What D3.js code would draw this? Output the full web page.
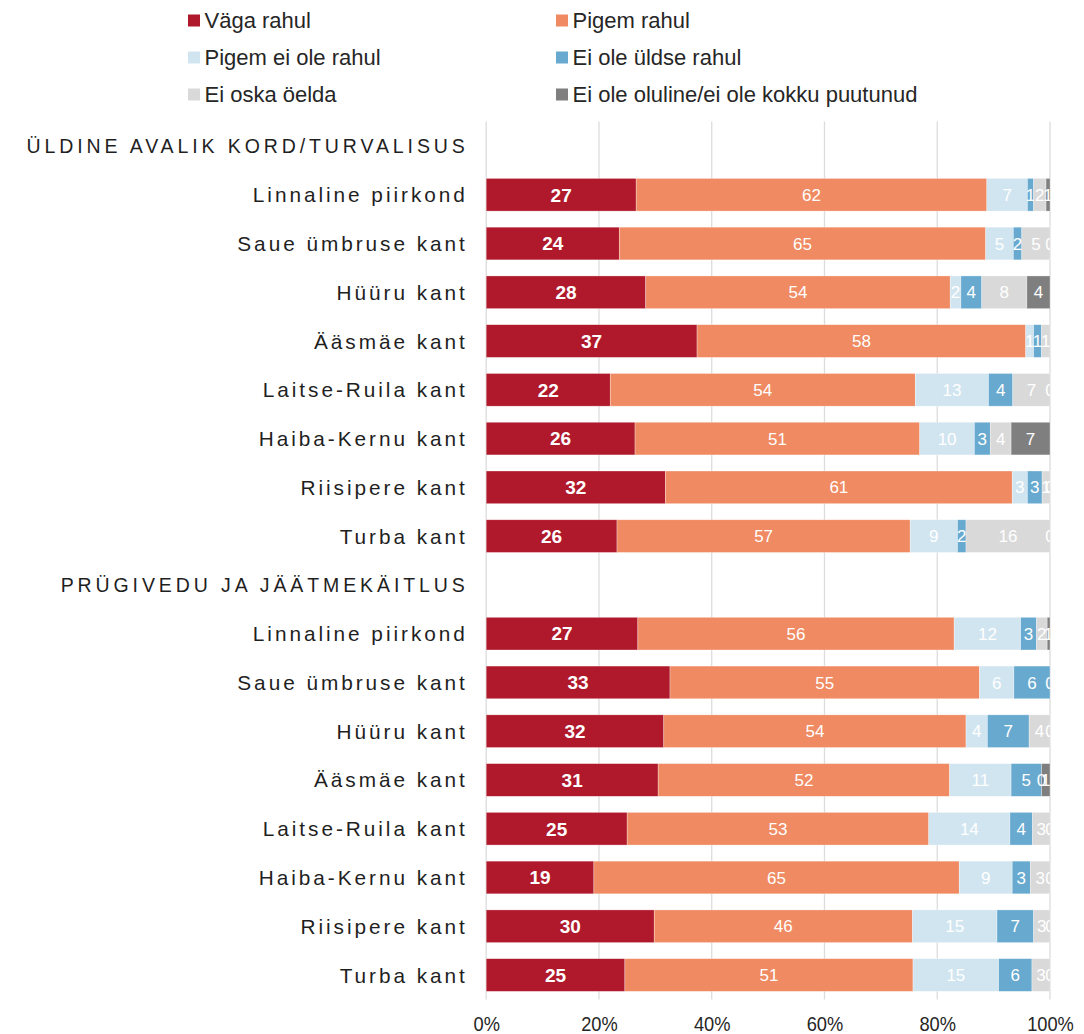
<!DOCTYPE html>
<html>
<head>
<meta charset="utf-8">
<script src="https://cdn.jsdelivr.net/npm/d3@7"></script>
<style>
  html, body { margin: 0; padding: 0; background: #fff; }
  svg { display: block; }
</style>
</head>
<body>
<svg id="chart" width="1084" height="1034"></svg>
<script>
// ---------- DATA ----------
const sections = ["ÜLDINE AVALIK KORD/TURVALISUS", "PRÜGIVEDU JA JÄÄTMEKÄITLUS"];
const categories = ["Linnaline piirkond", "Saue ümbruse kant", "Hüüru kant", "Ääsmäe kant",
                    "Laitse-Ruila kant", "Haiba-Kernu kant", "Riisipere kant", "Turba kant"];
const seriesNames = ["Väga rahul", "Pigem rahul", "Pigem ei ole rahul", "Ei ole üldse rahul",
                     "Ei oska öelda", "Ei ole oluline/ei ole kokku puutunud"];
const seriesColors = ["#b0182b", "#ef8a62", "#d1e5f0", "#67a9cf", "#d9d9d9", "#7f7f7f"];

// Section 1: ÜLDINE AVALIK KORD/TURVALISUS (bar lengths, %)
const vaga1     = [26.6, 23.6, 28.3, 37.4, 22.0, 26.4, 31.8, 23.2];
const pigem1    = [62.2, 65.0, 54.0, 58.3, 54.1, 50.5, 61.5, 52.0];
const pigemEi1  = [7.2, 4.9, 1.9, 1.4, 13.0, 9.7, 2.7, 8.4];
const eiUldse1  = [1.1, 1.5, 3.7, 1.4, 4.3, 2.8, 2.6, 1.5];
const eiOska1   = [2.2, 5.0, 8.0, 1.5, 6.6, 3.7, 1.4, 14.9];
const eiOlul1   = [0.7, 0, 4.1, null, 0, 6.9, 0, 0];
// Section 1 printed labels
const vaga1Lab    = [27, 24, 28, 37, 22, 26, 32, 26];
const pigem1Lab   = [62, 65, 54, 58, 54, 51, 61, 57];
const pigemEi1Lab = [7, 5, 2, 1, 13, 10, 3, 9];
const eiUldse1Lab = [1, 2, 4, 1, 4, 3, 3, 2];
const eiOska1Lab  = [2, 5, 8, 1, 7, 4, 1, 16];
const eiOlul1Lab  = [1, 0, 4, null, 0, 7, 0, 0];

// Section 2: PRÜGIVEDU JA JÄÄTMEKÄITLUS (bar lengths, %)
const vaga2     = [26.9, 32.6, 31.5, 30.5, 25.0, 19.1, 29.8, 24.6];
const pigem2    = [56.1, 54.9, 53.6, 51.7, 53.5, 64.8, 45.8, 51.1];
const pigemEi2  = [11.8, 6.1, 3.8, 10.9, 14.4, 9.4, 15.0, 15.2];
const eiUldse2  = [2.8, 6.4, 7.4, 5.4, 4.0, 3.2, 6.5, 5.9];
const eiOska2   = [1.9, 0, 3.7, 0, 3.1, 3.5, 2.9, 3.2];
const eiOlul2   = [0.5, null, 0, 1.5, 0, 0, 0, 0];
// Section 2 printed labels
const vaga2Lab    = [27, 33, 32, 31, 25, 19, 30, 25];
const pigem2Lab   = [56, 55, 54, 52, 53, 65, 46, 51];
const pigemEi2Lab = [12, 6, 4, 11, 14, 9, 15, 15];
const eiUldse2Lab = [3, 6, 7, 5, 4, 3, 7, 6];
const eiOska2Lab  = [2, 0, 4, 0, 3, 3, 3, 3];
const eiOlul2Lab  = [1, null, 0, 1, 0, 0, 0, 0];

const xTicks = [0, 20, 40, 60, 80, 100];

// ---------- BUILD ROWS ----------
const sectionValues = [
  [vaga1, pigem1, pigemEi1, eiUldse1, eiOska1, eiOlul1],
  [vaga2, pigem2, pigemEi2, eiUldse2, eiOska2, eiOlul2]
];
const sectionLabels = [
  [vaga1Lab, pigem1Lab, pigemEi1Lab, eiUldse1Lab, eiOska1Lab, eiOlul1Lab],
  [vaga2Lab, pigem2Lab, pigemEi2Lab, eiUldse2Lab, eiOska2Lab, eiOlul2Lab]
];
const rows = [];
sections.forEach((s, si) => {
  rows.push({ key: "h" + si, header: true, label: s });
  categories.forEach((c, ci) => {
    let acc = 0;
    const segs = sectionValues[si].map((arr, k) => {
      const v = arr[ci];
      const seg = { k, v, x0: acc, x1: acc + (v || 0), lab: sectionLabels[si][k][ci] };
      acc += (v || 0);
      return seg;
    });
    rows.push({ key: "r" + si + "_" + ci, header: false, label: c, segs });
  });
});

// ---------- DRAW ----------
const svg = d3.select("#chart");
const FONT = "'Liberation Sans', Arial, Helvetica, sans-serif";

const x = d3.scaleLinear().domain([0, 100]).range([486.2, 1050]);
const y = d3.scaleBand().domain(rows.map(r => r.key)).range([121.6, 999.4])
  .paddingInner(0.33).paddingOuter(0.165);

// gridlines
svg.append("g").selectAll("line").data(xTicks).join("line")
  .attr("x1", d => x(d)).attr("x2", d => x(d))
  .attr("y1", 121.6).attr("y2", 999.4)
  .attr("stroke", "#dcdcdc").attr("stroke-width", 1.3);

// bars
const barRows = rows.filter(r => !r.header);
const gBars = svg.append("g");
barRows.forEach(r => {
  gBars.selectAll(null).data(r.segs.filter(s => s.v)).join("rect")
    .attr("x", s => x(s.x0)).attr("width", s => x(s.x1) - x(s.x0))
    .attr("y", y(r.key)).attr("height", y.bandwidth())
    .attr("fill", s => seriesColors[s.k])
    .attr("stroke", "#ffffff").attr("stroke-opacity", 0.5).attr("stroke-width", 0.6);
});

// labels (clipped to plot area)
svg.append("clipPath").attr("id", "plotClip").append("rect")
  .attr("x", x(0)).attr("y", 0).attr("width", x(100) - x(0)).attr("height", 1034);
const gLab = svg.append("g").attr("clip-path", "url(#plotClip)");
barRows.forEach(r => {
  gLab.selectAll(null).data(r.segs.filter(s => s.lab !== null && s.lab !== undefined)).join("text")
    .attr("x", s => (x(s.x0) + x(s.x1)) / 2)
    .attr("y", y(r.key) + y.bandwidth() / 2)
    .attr("dy", "0.36em")
    .attr("text-anchor", "middle")
    .attr("font-family", FONT)
    .attr("font-size", s => s.k === 0 ? 19 : 17)
    .attr("font-weight", s => s.k === 0 ? "bold" : "normal")
    .attr("fill", "#ffffff")
    .text(s => s.lab);
});

// category + section labels
svg.append("g").selectAll("text").data(rows).join("text")
  .attr("x", r => r.header ? 468.7 : 467.8)
  .attr("y", r => y(r.key) + y.bandwidth() / 2)
  .attr("dy", "0.36em")
  .attr("text-anchor", "end")
  .attr("font-family", FONT)
  .attr("font-size", r => r.header ? 19.5 : 20.8)
  .attr("letter-spacing", r => r.header ? "3.9px" : "2.95px")
  .attr("fill", "#1f1f1f")
  .text(r => r.label);

// x axis
const axis = d3.axisBottom(x).tickValues(xTicks).tickFormat(d => d + "%")
  .tickSize(0).tickPadding(17);
const gAx = svg.append("g").attr("transform", "translate(0,999.4)").call(axis);
gAx.select(".domain").remove();
gAx.selectAll("text").attr("font-family", FONT).attr("font-size", 21).attr("fill", "#262626")
  .attr("transform", "scale(0.87,1)");

// legend
const legCols = [188, 556];
const legRows = [20.5, 57.5, 94.5];
const gLeg = svg.append("g");
seriesNames.forEach((n, i) => {
  const lx = legCols[i % 2], ly = legRows[Math.floor(i / 2)];
  gLeg.append("rect").attr("x", lx).attr("y", ly - 6).attr("width", 12).attr("height", 12)
    .attr("fill", seriesColors[i]);
  gLeg.append("text").attr("x", lx + 16.5).attr("y", ly).attr("dy", "0.36em")
    .attr("font-family", FONT).attr("font-size", 22).attr("fill", "#262626").text(n);
});
</script>
</body>
</html>
